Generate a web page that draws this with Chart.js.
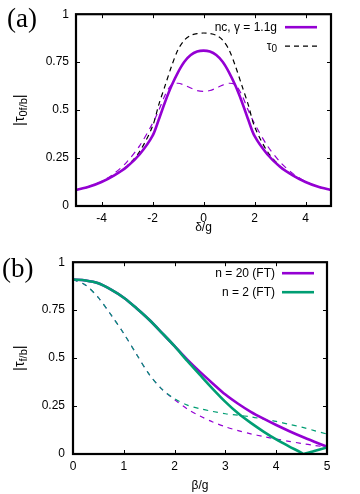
<!DOCTYPE html>
<html>
<head>
<meta charset="utf-8">
<script src="https://cdn.jsdelivr.net/npm/chart.js@4.4.1/dist/chart.umd.min.js"></script>
<style>
  html, body { margin: 0; padding: 0; background: #fff; }
  .panel { position: relative; width: 360px; height: 247px; }
</style>
</head>
<body>
<div class="panel"><canvas id="chartA"></canvas></div>
<div class="panel"><canvas id="chartB"></canvas></div>
<script>
// ---- panel (a) ----
const deltaTicks = [-4, -2, 0, 2, 4];
const delta = [-5, -4.5, -4, -3.5, -3, -2.5, -2, -1.75, -1.5, -1.25, -1, -0.75, -0.5, -0.25, 0,
  0.25, 0.5, 0.75, 1, 1.25, 1.5, 1.75, 2, 2.5, 3, 3.5, 4, 4.5, 5];
const ncSolid = [0.083, 0.100, 0.125, 0.160, 0.205, 0.270, 0.365, 0.452, 0.545, 0.628, 0.697, 0.752, 0.787, 0.805, 0.810,
  0.805, 0.787, 0.752, 0.697, 0.628, 0.545, 0.452, 0.365, 0.270, 0.205, 0.160, 0.125, 0.100, 0.083];
const tau0 = [0.083, 0.100, 0.126, 0.160, 0.208, 0.285, 0.415, 0.530, 0.630, 0.730, 0.815, 0.865, 0.890, 0.899, 0.902,
  0.899, 0.890, 0.865, 0.815, 0.730, 0.630, 0.530, 0.415, 0.285, 0.208, 0.160, 0.126, 0.100, 0.083];
const ncDashed = [0.083, 0.101, 0.128, 0.170, 0.230, 0.315, 0.430, 0.500, 0.580, 0.632, 0.640, 0.630, 0.615, 0.602, 0.598,
  0.602, 0.615, 0.630, 0.640, 0.632, 0.580, 0.500, 0.430, 0.315, 0.230, 0.170, 0.128, 0.101, 0.083];

// ---- panel (b) ----
const betaTicks = [0, 1, 2, 3, 4, 5];
const beta = [0, 0.25, 0.5, 0.75, 1, 1.25, 1.5, 1.75, 2, 2.25, 2.5, 2.75, 3, 3.25, 3.5, 3.75, 4, 4.25, 4.5, 4.75, 5];
const n20Solid = [0.910, 0.905, 0.890, 0.857, 0.815, 0.760, 0.700, 0.632, 0.562, 0.492, 0.428, 0.368, 0.310, 0.262,
  0.220, 0.184, 0.151, 0.120, 0.091, 0.064, 0.038];
const betaN2 = [0, 0.25, 0.5, 0.75, 1, 1.25, 1.5, 1.75, 2, 2.25, 2.5, 2.75, 3, 3.25, 3.5, 3.75, 4, 4.25, 4.5, 4.53, 4.75, 5];
const n2Solid = [0.910, 0.905, 0.890, 0.857, 0.815, 0.760, 0.700, 0.632, 0.562, 0.485, 0.412, 0.340, 0.272, 0.212,
  0.162, 0.117, 0.076, 0.040, 0.006, 0.000, 0.016, 0.034];
const n20Dashed = [0.910, 0.880, 0.815, 0.725, 0.628, 0.520, 0.415, 0.338, 0.283, 0.235, 0.198, 0.167, 0.142, 0.122,
  0.105, 0.091, 0.078, 0.066, 0.055, 0.045, 0.036];
const n2Dashed = [0.910, 0.880, 0.815, 0.725, 0.628, 0.520, 0.415, 0.338, 0.288, 0.255, 0.236, 0.222, 0.210, 0.202,
  0.194, 0.182, 0.170, 0.155, 0.140, 0.122, 0.104];

const tauTicks = [0, 0.25, 0.5, 0.75, 1];

const PURPLE = '#9400d3';
const GREEN = '#009e73';
const FAMILY = '"Liberation Sans", Arial, sans-serif';
const FONT = { family: FAMILY, size: 12 };

const pts = (xs, ys) => xs.map((v, i) => ({ x: v, y: ys[i] }));

const line = (label, xs, ys, color, width, dash, order) => ({
  label, data: pts(xs, ys), borderColor: color, borderWidth: width,
  borderDash: dash || [], pointRadius: 0, tension: 0.3,
  fill: false, order: order || 0
});

// text with an optional "_" subscript part, drawn at the current transform
function subText(ctx, str, x, y, size, subSize, align) {
  const [main, sub] = str.split('_');
  ctx.font = size + 'px ' + FAMILY;
  const w1 = ctx.measureText(main).width;
  let w2 = 0;
  if (sub) { ctx.font = subSize + 'px ' + FAMILY; w2 = ctx.measureText(sub).width; }
  let x0 = align === 'right' ? x - w1 - w2 : align === 'center' ? x - (w1 + w2) / 2 : x;
  ctx.textAlign = 'left';
  ctx.font = size + 'px ' + FAMILY;
  ctx.fillText(main, x0, y);
  if (sub) {
    ctx.font = subSize + 'px ' + FAMILY;
    ctx.fillText(sub, x0 + w1, y + size * 0.28);
  }
  return x0 + w1 + w2;
}

// frame, inward ticks, panel tag, y title with subscript, legend
const framePlugin = {
  id: 'frame',
  afterDraw(chart, args, o) {
    const { ctx, chartArea: a } = chart;
    const x = chart.scales.x, y = chart.scales.y;
    ctx.save();
    ctx.strokeStyle = '#000';
    ctx.lineWidth = 1;
    ctx.beginPath();
    x.ticks.forEach(t => {
      const p = Math.round(x.getPixelForValue(t.value)) + 0.5;
      ctx.moveTo(p, a.bottom); ctx.lineTo(p, a.bottom - 4);
      ctx.moveTo(p, a.top); ctx.lineTo(p, a.top + 4);
    });
    y.ticks.forEach(t => {
      const p = Math.round(y.getPixelForValue(t.value)) + 0.5;
      ctx.moveTo(a.left, p); ctx.lineTo(a.left + 4, p);
      ctx.moveTo(a.right, p); ctx.lineTo(a.right - 4, p);
    });
    ctx.stroke();
    ctx.lineWidth = 2.2;
    ctx.strokeRect(a.left, a.top, a.right - a.left, a.bottom - a.top);

    ctx.fillStyle = '#000';
    ctx.font = '27px "Liberation Serif", serif';
    ctx.textAlign = 'left';
    ctx.textBaseline = 'alphabetic';
    ctx.fillText(o.tag, o.tagX, o.tagY);

    // rotated y title
    ctx.save();
    ctx.translate(o.titleX, (a.top + a.bottom) / 2);
    ctx.rotate(-Math.PI / 2);
    ctx.textBaseline = 'middle';
    ctx.font = '15px ' + FAMILY;
    const bar = ctx.measureText('|').width;
    ctx.font = '14px ' + FAMILY;
    const tw = ctx.measureText(o.title.split('_')[0]).width;
    ctx.font = '11px ' + FAMILY;
    const sw = ctx.measureText(o.title.split('_')[1]).width;
    let cx = -(2 * bar + tw + sw) / 2;
    ctx.font = '15px ' + FAMILY;
    ctx.textAlign = 'left';
    ctx.fillText('|', cx, 0);
    cx = subText(ctx, o.title, cx + bar, 0, 14, 11, 'left');
    ctx.font = '15px ' + FAMILY;
    ctx.fillText('|', cx, 0);
    ctx.restore();

    // legend, text left of sample
    ctx.textBaseline = 'middle';
    let row = 0;
    chart.data.datasets.forEach(ds => {
      if (!ds.label) return;
      const yy = a.top + o.legendTop + row * 19;
      ctx.fillStyle = '#000';
      subText(ctx, ds.label, a.right - o.legendText, yy, 12, 10, 'right');
      ctx.strokeStyle = ds.borderColor;
      ctx.lineWidth = ds.borderWidth;
      ctx.setLineDash(ds.borderDash);
      ctx.beginPath();
      ctx.moveTo(a.right - o.legendLine - 32, yy);
      ctx.lineTo(a.right - o.legendLine, yy);
      ctx.stroke();
      ctx.setLineDash([]);
      row++;
    });
    ctx.restore();
  }
};

function makeOptions(cfg) {
  return {
    responsive: true,
    maintainAspectRatio: false,
    animation: false,
    devicePixelRatio: 1,
    layout: { padding: cfg.padding },
    plugins: { legend: { display: false }, tooltip: { enabled: false }, frame: cfg.frame },
    scales: {
      x: {
        type: 'linear', min: cfg.xMin, max: cfg.xMax,
        afterBuildTicks: s => { s.ticks = cfg.xTicks.map(v => ({ value: v })); },
        afterFit: s => { s.height = cfg.xHeight; },
        grid: { display: false, drawTicks: false },
        border: { display: false },
        ticks: { color: '#000', font: FONT, padding: 5, maxRotation: 0, callback: v => String(v) },
        title: { display: true, text: cfg.xTitle, color: '#000', font: FONT, padding: { top: 0, bottom: cfg.xTitlePad } }
      },
      y: {
        type: 'linear', min: 0, max: 1,
        afterBuildTicks: s => { s.ticks = tauTicks.map(v => ({ value: v })); },
        afterFit: s => { s.width = cfg.yWidth; },
        grid: { display: false, drawTicks: false },
        border: { display: false },
        ticks: { color: '#000', font: FONT, padding: cfg.yPad, callback: v => String(v) }
      }
    }
  };
}

new Chart(document.getElementById('chartA'), {
  type: 'line',
  data: {
    datasets: [
      line('nc, γ = 1.1g', delta, ncSolid, PURPLE, 2.6, [], 0),
      line('τ_0', delta, tau0, '#000', 1.2, [5, 4], 1),
      line('', delta, ncDashed, PURPLE, 1.2, [6, 5], 2)
    ]
  },
  options: makeOptions({
    padding: { left: 0, top: 12, right: 29, bottom: 0 },
    xMin: -5, xMax: 5, xTicks: deltaTicks, xHeight: 41, xTitle: 'δ/g', xTitlePad: 12,
    yWidth: 76, yPad: 7,
    frame: { tag: '(a)', tagX: 7, tagY: 27, title: 'τ_0f/b',
      titleX: 20, legendTop: 13, legendText: 54, legendLine: 14 }
  }),
  plugins: [framePlugin]
});

new Chart(document.getElementById('chartB'), {
  type: 'line',
  data: {
    datasets: [
      line('n = 20 (FT)', beta, n20Solid, PURPLE, 2.6, [], 1),
      line('n = 2 (FT)', betaN2, n2Solid, GREEN, 2.6, [], 0),
      line('', beta, n20Dashed, PURPLE, 1.2, [5, 5], 3),
      line('', beta, n2Dashed, GREEN, 1.2, [5, 5], 2)
    ]
  },
  options: makeOptions({
    padding: { left: 0, top: 15, right: 33, bottom: 0 },
    xMin: 0, xMax: 5, xTicks: betaTicks, xHeight: 40, xTitle: 'β/g', xTitlePad: 1,
    yWidth: 73, yPad: 8,
    frame: { tag: '(b)', tagX: 2, tagY: 30, title: 'τ_f/b',
      titleX: 20, legendTop: 11, legendText: 52, legendLine: 13 }
  }),
  plugins: [framePlugin]
});
</script>
</body>
</html>
